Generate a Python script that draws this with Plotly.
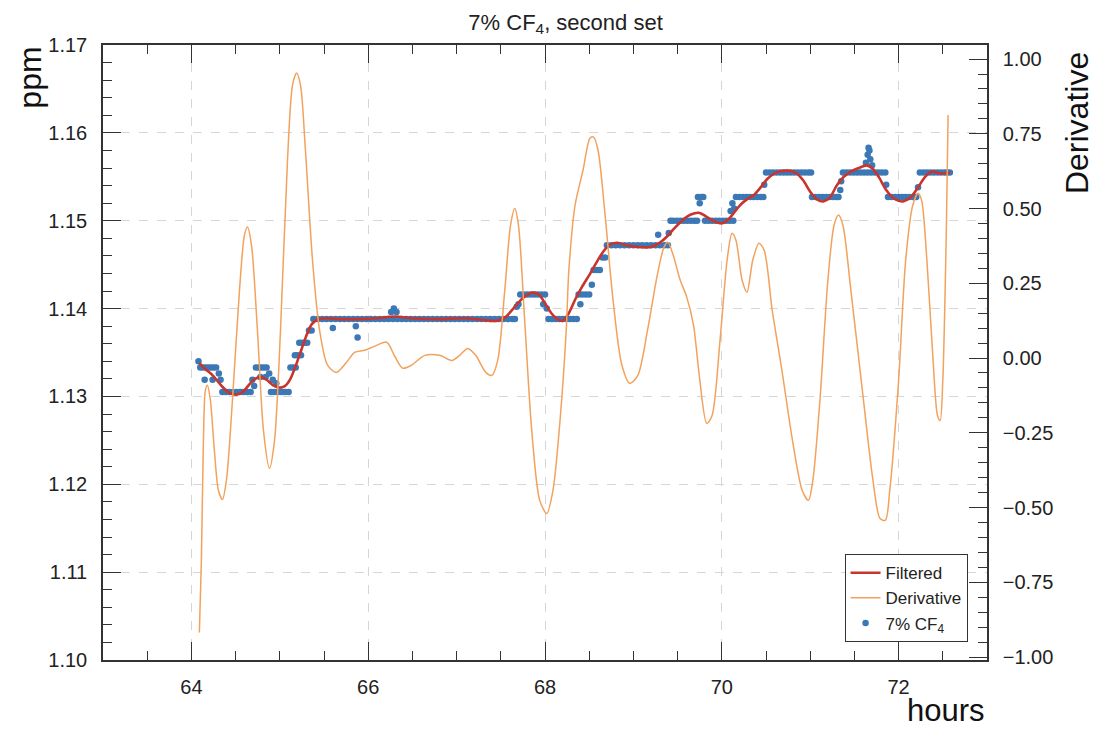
import plotly.graph_objects as go

# ---------------- data ----------------
cf4_hours = [
    64.08, 64.10, 64.13, 64.15, 64.16, 64.19, 64.22, 64.24, 64.25, 64.28, 64.31, 64.33,
    64.35, 64.39, 64.43, 64.47, 64.51, 64.55, 64.59, 64.63, 64.67, 64.69, 64.71,
    64.73, 64.76, 64.78, 64.79, 64.82, 64.84, 64.85, 64.88,
    64.90, 64.92, 64.94, 64.96, 64.98, 65.02, 65.06, 65.10,
    65.12, 65.15, 65.17, 65.18, 65.20,
    65.22, 65.24, 65.25, 65.28, 65.31,
    65.33, 65.36,
    65.38, 65.43, 65.48, 65.53, 65.58, 65.63, 65.68, 65.73, 65.78, 65.83, 65.88, 65.93,
    65.98, 66.03, 66.08, 66.13, 66.18, 66.23, 66.28, 66.33, 66.38, 66.43, 66.48, 66.53,
    66.58, 66.63, 66.68, 66.73, 66.78, 66.83, 66.88, 66.93, 66.98, 67.03, 67.08, 67.13,
    67.18, 67.23, 67.28, 67.33, 67.38, 67.43, 67.48, 67.53, 67.58, 67.63, 67.66,
    65.60, 65.86, 65.88, 66.26, 66.29, 66.32,
    67.68, 67.70, 67.72, 67.76, 67.80, 67.84, 67.88, 67.92, 67.96, 67.98, 68.00, 68.02,
    68.04, 68.08, 68.12, 68.16, 68.20, 68.24, 68.28, 68.32, 68.36,
    68.38, 68.40, 68.42, 68.46, 68.50, 68.53,
    68.55, 68.59, 68.62, 68.65, 68.68,
    68.70, 68.75, 68.80, 68.85, 68.90, 68.95, 69.00, 69.05, 69.10, 69.15, 69.20, 69.25,
    69.28, 69.30, 69.35, 69.39,
    69.40, 69.42, 69.45, 69.49, 69.53, 69.57, 69.61, 69.65, 69.69, 69.72,
    69.73, 69.75, 69.77, 69.79,
    69.81, 69.85, 69.89, 69.93, 69.97, 70.01, 70.05, 70.09, 70.13, 70.10, 70.12, 70.14,
    70.16, 70.20, 70.24, 70.28, 70.32, 70.36, 70.40, 70.44, 70.47,
    70.48, 70.50, 70.54, 70.58, 70.62, 70.66, 70.70, 70.74, 70.78, 70.82, 70.86, 70.90,
    70.94, 70.98, 71.01,
    71.02, 71.06, 71.10, 71.14, 71.18, 71.22, 71.26, 71.30, 71.32,
    71.34, 71.35,
    71.37, 71.41, 71.45, 71.49, 71.53, 71.57, 71.61, 71.65, 71.69, 71.73, 71.77, 71.81, 71.85,
    71.63, 71.65, 71.66, 71.67, 71.68, 71.70,
    71.86, 71.88, 71.92, 71.96, 72.00, 72.04, 72.08, 72.12, 72.16, 72.20, 72.22,
    72.24, 72.28, 72.32, 72.36, 72.40, 72.44, 72.48, 72.52, 72.55, 72.58,
]
cf4_ppm = [
    1.1340, 1.1333, 1.1333, 1.1319, 1.1333, 1.1333, 1.1333, 1.1319, 1.1333, 1.1333, 1.1326, 1.1319,
    1.1305, 1.1305, 1.1305, 1.1305, 1.1305, 1.1305, 1.1305, 1.1305, 1.1305, 1.1319, 1.1312,
    1.1333, 1.1333, 1.1322, 1.1333, 1.1333, 1.1322, 1.1333, 1.1326,
    1.1305, 1.1319, 1.1305, 1.1315, 1.1305, 1.1305, 1.1305, 1.1305,
    1.1333, 1.1333, 1.1347, 1.1333, 1.1347,
    1.1361, 1.1347, 1.1361, 1.1361, 1.1361,
    1.1375, 1.1375,
    1.1388, 1.1388, 1.1388, 1.1388, 1.1388, 1.1388, 1.1388, 1.1388, 1.1388, 1.1388, 1.1388, 1.1388,
    1.1388, 1.1388, 1.1388, 1.1388, 1.1388, 1.1388, 1.1388, 1.1388, 1.1388, 1.1388, 1.1388, 1.1388,
    1.1388, 1.1388, 1.1388, 1.1388, 1.1388, 1.1388, 1.1388, 1.1388, 1.1388, 1.1388, 1.1388, 1.1388,
    1.1388, 1.1388, 1.1388, 1.1388, 1.1388, 1.1388, 1.1388, 1.1388, 1.1388, 1.1388, 1.1388,
    1.1378, 1.1380, 1.1367, 1.1396, 1.1400, 1.1396,
    1.1402, 1.1405, 1.1416, 1.1416, 1.1416, 1.1416, 1.1416, 1.1416, 1.1416, 1.1405, 1.1416, 1.1400,
    1.1388, 1.1388, 1.1388, 1.1388, 1.1388, 1.1388, 1.1388, 1.1388, 1.1388,
    1.1416, 1.1405, 1.1416, 1.1416, 1.1416, 1.1427,
    1.1444, 1.1444, 1.1444, 1.1458, 1.1458,
    1.1472, 1.1472, 1.1472, 1.1472, 1.1472, 1.1472, 1.1472, 1.1472, 1.1472, 1.1472, 1.1472, 1.1472,
    1.1484, 1.1472, 1.1472, 1.1472,
    1.1486, 1.1500, 1.1500, 1.1500, 1.1500, 1.1500, 1.1500, 1.1500, 1.1500, 1.1500,
    1.1527, 1.1520, 1.1527, 1.1527,
    1.1500, 1.1500, 1.1500, 1.1500, 1.1500, 1.1500, 1.1500, 1.1500, 1.1500, 1.1511, 1.1520, 1.1514,
    1.1527, 1.1527, 1.1527, 1.1527, 1.1527, 1.1527, 1.1527, 1.1527, 1.1527,
    1.1541, 1.1555, 1.1555, 1.1555, 1.1555, 1.1555, 1.1555, 1.1555, 1.1555, 1.1555, 1.1555, 1.1555,
    1.1555, 1.1555, 1.1555,
    1.1527, 1.1527, 1.1527, 1.1527, 1.1527, 1.1527, 1.1527, 1.1527, 1.1527,
    1.1535, 1.1545,
    1.1555, 1.1555, 1.1555, 1.1555, 1.1555, 1.1555, 1.1555, 1.1555, 1.1555, 1.1555, 1.1555, 1.1555, 1.1555,
    1.1566, 1.1575, 1.1583, 1.1580, 1.1570, 1.1563,
    1.1541, 1.1527, 1.1527, 1.1527, 1.1527, 1.1527, 1.1527, 1.1527, 1.1527, 1.1527, 1.1538,
    1.1555, 1.1555, 1.1555, 1.1555, 1.1555, 1.1555, 1.1555, 1.1555, 1.1555, 1.1555,
]

filtered_hours = [
    64.09, 64.16, 64.24, 64.35, 64.43, 64.51, 64.58, 64.65, 64.72, 64.78, 64.85, 64.92,
    65.00, 65.06, 65.12, 65.18, 65.24, 65.30, 65.36, 65.42, 65.50, 65.70, 65.90, 66.10,
    66.30, 66.50, 66.80, 67.10, 67.30, 67.45, 67.55, 67.65, 67.75, 67.85, 67.93, 68.00,
    68.07, 68.14, 68.20, 68.27, 68.34, 68.42, 68.50, 68.58, 68.66, 68.74, 68.82, 68.92,
    69.05, 69.20, 69.30, 69.38, 69.46, 69.55, 69.65, 69.74, 69.82, 69.90, 70.00, 70.07,
    70.13, 70.20, 70.28, 70.36, 70.44, 70.52, 70.62, 70.73, 70.83, 70.92, 71.00, 71.08,
    71.15, 71.22, 71.30, 71.38, 71.46, 71.55, 71.64, 71.71, 71.78, 71.86, 71.95, 72.05,
    72.13, 72.22, 72.30, 72.38, 72.46, 72.53, 72.58,
]
filtered_ppm = [
    1.1338, 1.1331, 1.1324, 1.1311, 1.1304, 1.1302, 1.1305, 1.1313, 1.1320, 1.1322, 1.1319, 1.1313,
    1.1310, 1.1312, 1.1320, 1.1335, 1.1352, 1.1369, 1.1382, 1.1387, 1.1389, 1.1388, 1.1388, 1.1389,
    1.1391, 1.1389, 1.1388, 1.1389, 1.1387, 1.1386, 1.1390, 1.1401, 1.1412, 1.1418, 1.1416, 1.1406,
    1.1395, 1.1388, 1.1386, 1.1395, 1.1410, 1.1425, 1.1438, 1.1452, 1.1465, 1.1473, 1.1475, 1.1472,
    1.1470, 1.1470, 1.1475, 1.1482, 1.1491, 1.1500, 1.1507, 1.1509, 1.1505, 1.1500, 1.1497, 1.1501,
    1.1508, 1.1517, 1.1524, 1.1529, 1.1538, 1.1548, 1.1555, 1.1557, 1.1555, 1.1546, 1.1533, 1.1524,
    1.1522, 1.1526, 1.1540, 1.1550, 1.1556, 1.1560, 1.1563, 1.1559, 1.1549, 1.1535, 1.1525, 1.1522,
    1.1526, 1.1538, 1.1550, 1.1556, 1.1554, 1.1554, 1.1555,
]

deriv_hours = [
    64.090, 64.113, 64.136, 64.158, 64.181, 64.215, 64.260, 64.306, 64.351, 64.396, 64.464, 64.544,
    64.600, 64.634, 64.680, 64.747, 64.815, 64.883, 64.940, 65.008, 65.087, 65.144, 65.190, 65.234,
    65.290, 65.370, 65.450, 65.540, 65.640, 65.755, 65.846, 65.960, 66.070, 66.210, 66.300, 66.390,
    66.490, 66.640, 66.810, 66.945, 67.035, 67.126, 67.216, 67.330, 67.400, 67.465, 67.545, 67.610,
    67.658, 67.700, 67.770, 67.850, 67.940, 68.020, 68.090, 68.170, 68.240, 68.270, 68.340, 68.430,
    68.510, 68.550, 68.600, 68.680, 68.770, 68.870, 68.960, 69.050, 69.160, 69.270, 69.345, 69.390,
    69.450, 69.530, 69.600, 69.680, 69.745, 69.830, 69.890, 69.980, 70.060, 70.115, 70.160, 70.230,
    70.285, 70.350, 70.420, 70.480, 70.570, 70.680, 70.800, 70.910, 70.980, 71.030, 71.110, 71.200,
    71.270, 71.320, 71.370, 71.460, 71.590, 71.710, 71.790, 71.850, 71.900, 72.000, 72.080, 72.160,
    72.220, 72.260, 72.320, 72.390, 72.440, 72.470, 72.500, 72.540, 72.560,
]
deriv_values = [
    -0.918, -0.677, -0.276, -0.108, -0.091, -0.142, -0.309, -0.443, -0.473, -0.409, -0.142, 0.227,
    0.411, 0.438, 0.377, 0.093, -0.242, -0.369, -0.276, 0.093, 0.662, 0.913, 0.953, 0.913,
    0.695, 0.327, 0.093, -0.024, -0.048, -0.014, 0.019, 0.026, 0.039, 0.053, 0.006, -0.034,
    -0.024, 0.009, 0.009, -0.008, 0.009, 0.032, 0.009, -0.048, -0.058, -0.008, 0.227, 0.444,
    0.500, 0.444, 0.126, -0.242, -0.476, -0.520, -0.443, -0.209, 0.093, 0.294, 0.511, 0.628,
    0.736, 0.739, 0.695, 0.478, 0.193, -0.024, -0.085, -0.058, 0.093, 0.277, 0.370, 0.387,
    0.344, 0.260, 0.207, 0.110, -0.058, -0.219, -0.192, 0.059, 0.327, 0.417, 0.394, 0.260,
    0.220, 0.327, 0.384, 0.360, 0.160, -0.041, -0.276, -0.443, -0.476, -0.409, -0.142, 0.260,
    0.444, 0.478, 0.444, 0.227, -0.108, -0.409, -0.537, -0.543, -0.443, -0.075, 0.327, 0.511,
    0.551, 0.528, 0.327, -0.008, -0.192, -0.209, -0.075, 0.427, 0.813,
]

# ---------------- figure ----------------
FONT = "Liberation Sans, Arial, Helvetica, sans-serif"
INK = "#222222"
AX = "#333333"
BLUE = "#3b78b5"
RED = "#c9342c"
ORANGE = "#f2a25c"

fig = go.Figure()

fig.add_trace(go.Scatter(
    x=cf4_hours, y=cf4_ppm, mode="markers", name="7% CF<sub>4</sub>",
    marker=dict(color=BLUE, size=6.5, line=dict(width=0)), legendrank=3,
))
fig.add_trace(go.Scatter(
    x=filtered_hours, y=filtered_ppm, mode="lines", name="Filtered",
    line=dict(color=RED, width=2.6, shape="spline", smoothing=0.8), legendrank=1,
))
fig.add_trace(go.Scatter(
    x=deriv_hours, y=deriv_values, mode="lines", name="Derivative", yaxis="y2",
    line=dict(color=ORANGE, width=1.5, shape="spline", smoothing=0.8), legendrank=2,
))

tickfont = dict(family=FONT, size=20, color=INK)

# the page body has an 8 px margin, so the figure is 16 px smaller and shifted
fig.update_layout(
    width=1089, height=721,
    margin=dict(l=95, r=110, t=37, b=69),
    paper_bgcolor="white", plot_bgcolor="white",
    font=dict(family=FONT, color=INK),
    title=dict(text="7% CF<sub>4</sub>, second set", x=0.512, xanchor="center", xref="container",
               y=1 - 14 / 721, yanchor="middle", yref="container",
               font=dict(family=FONT, size=22, color=INK)),
    showlegend=True,
    legend=dict(x=0.978, y=0.029, xanchor="right", yanchor="bottom",
                bgcolor="white", bordercolor=AX, borderwidth=1,
                font=dict(family=FONT, size=17, color=INK)),
    xaxis=dict(
        range=[63, 73], tick0=64, dtick=2, tickfont=tickfont,
        ticks="inside", ticklen=18, tickwidth=1.3, tickcolor=AX,
        minor=dict(dtick=0.5, ticks="inside", ticklen=9, tickwidth=1.3, tickcolor=AX, showgrid=False),
        showline=True, linecolor=AX, linewidth=1.5, mirror="ticks",
        showgrid=True, gridcolor="#d6d6d6", griddash="dash", gridwidth=1,
        zeroline=False, ticklabelstandoff=8,
    ),
    yaxis=dict(
        range=[1.10, 1.17], tick0=1.10, dtick=0.01, tickformat=".2f", tickfont=tickfont,
        ticks="inside", ticklen=18, tickwidth=1.3, tickcolor=AX,
        minor=dict(dtick=0.002, ticks="inside", ticklen=9, tickwidth=1.3, tickcolor=AX, showgrid=False),
        showline=True, linecolor=AX, linewidth=1.5, mirror=False,
        showgrid=True, gridcolor="#d6d6d6", griddash="dash", gridwidth=1,
        zeroline=False, ticklabelstandoff=10,
    ),
    yaxis2=dict(
        overlaying="y", side="right",
        range=[-1.01, 1.047], tick0=0, dtick=0.25, tickformat=".2f", tickfont=tickfont,
        ticks="inside", ticklen=18, tickwidth=1.3, tickcolor=AX,
        minor=dict(dtick=0.05, ticks="inside", ticklen=9, tickwidth=1.3, tickcolor=AX, showgrid=False),
        showline=True, linecolor=AX, linewidth=1.5,
        showgrid=False, zeroline=False, ticklabelstandoff=10,
    ),
    annotations=[
        dict(text="ppm", xref="paper", yref="paper", x=-0.083, y=1.0,
             xanchor="center", yanchor="top", textangle=-90, showarrow=False,
             font=dict(family=FONT, size=32, color="#111")),
        dict(text="Derivative", xref="paper", yref="paper", x=1.102, y=0.992,
             xanchor="center", yanchor="top", textangle=-90, showarrow=False,
             font=dict(family=FONT, size=32, color="#111")),
        dict(text="hours", xref="paper", yref="paper", x=1.0, y=-0.05,
             xanchor="right", yanchor="top", showarrow=False,
             font=dict(family=FONT, size=31, color="#111")),
    ],
)

fig.write_html("out.html")
